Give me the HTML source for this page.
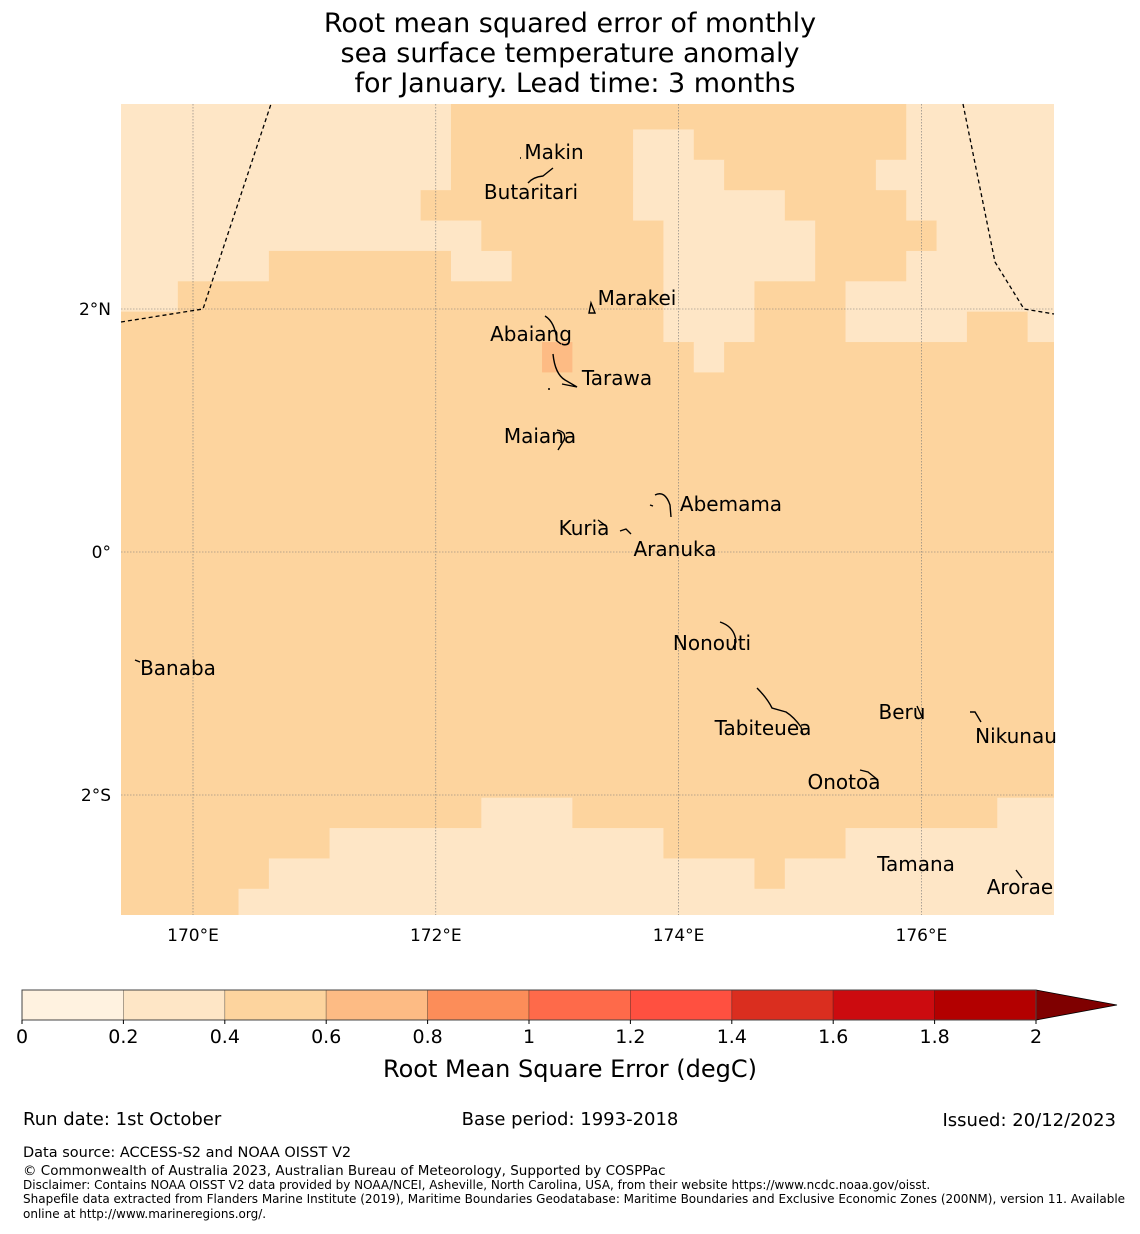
<!DOCTYPE html>
<html><head><meta charset="utf-8">
<style>
body{margin:0;background:#fff;width:1140px;height:1230px;overflow:hidden;font-family:"DejaVu Sans","Liberation Sans",sans-serif;}
svg text{font-family:"DejaVu Sans","Liberation Sans",sans-serif;}
</style></head><body>
<svg id="s" width="1140" height="1230" xmlns="http://www.w3.org/2000/svg">
<text x="570" y="32" font-size="27" text-anchor="middle">Root mean squared error of monthly</text>
<text x="570" y="62" font-size="27" text-anchor="middle">sea surface temperature anomaly</text>
<text x="575" y="92" font-size="27" text-anchor="middle">for January. Lead time: 3 months</text>
<defs><clipPath id="mc"><rect x="121" y="104" width="933" height="811"/></clipPath></defs>
<g id="map" clip-path="url(#mc)"></g>
<g id="ov"></g>
<g id="cb"></g>
<text x="570" y="1077" font-size="24" text-anchor="middle">Root Mean Square Error (degC)</text>
<text x="23" y="1125" font-size="18">Run date: 1st October</text>
<text x="570" y="1125" font-size="18" text-anchor="middle">Base period: 1993-2018</text>
<text x="1116" y="1126" font-size="18" text-anchor="end">Issued: 20/12/2023</text>
<text x="23" y="1157" font-size="14.5">Data source: ACCESS-S2 and NOAA OISST V2</text>
<text x="23" y="1175" font-size="13.5">© Commonwealth of Australia 2023, Australian Bureau of Meteorology, Supported by COSPPac</text>
<text x="23" y="1189" font-size="12">Disclaimer: Contains NOAA OISST V2 data provided by NOAA/NCEI, Asheville, North Carolina, USA, from their website https://www.ncdc.noaa.gov/oisst.</text>
<text x="23" y="1203" font-size="12">Shapefile data extracted from Flanders Marine Institute (2019), Maritime Boundaries Geodatabase: Maritime Boundaries and Exclusive Economic Zones (200NM), version 11. Available</text>
<text x="23" y="1218" font-size="12">online at http://www.marineregions.org/.</text>
</svg>
<script>
const levels=[0,0.2,0.4,0.6,0.8,1,1.2,1.4,1.6,1.8,2];
const colors=["#fff2e0","#fee6c6","#fdd49e","#fdbb84","#fc8d59","#fe6a4a","#ff5040","#da2e1f","#cc0b0f","#b30000"];
const extendColor="#7f0000";
const lonTicks=[170,172,174,176];
const latTicks=[2,0,-2];
const latLabels=["2°N","0°","2°S"];
// grid rows (0.25° cells), value class: 1=0.2-0.4, 2=0.4-0.6, 3=0.6-0.8
const gridRows=[
"1111111111122222222222222211111",
"1111111111122222211222222211111",
"1111111111122222211122222111111",
"1111111111222222211111222211111",
"1111111111112222221111122221111",
"1111122222211222221111122211111",
"1122222222222222221112221111111",
"2222222222222222221112221111221",
"2222222222222232222122222222222",
"2222222222222222222222222222222","2222222222222222222222222222222","2222222222222222222222222222222",
"2222222222222222222222222222222","2222222222222222222222222222222","2222222222222222222222222222222",
"2222222222222222222222222222222","2222222222222222222222222222222","2222222222222222222222222222222",
"2222222222222222222222222222222","2222222222222222222222222222222","2222222222222222222222222222222",
"2222222222222222222222222222222","2222222222222222222222222222222",
"2222222222221112222222222222211",
"2222222111111111112222221111111",
"2222211111111111111112111111111",
"2222111111111111111111111111111"];
const islands=[["Makin",554,152],["Butaritari",531,192],["Marakei",637,298],["Abaiang",531,334],["Tarawa",617,378],["Maiana",540,436],["Abemama",731,504],["Kuria",584,528],["Aranuka",675,549],["Nonouti",712,643],["Banaba",178,668],["Tabiteuea",763,728],["Beru",902,712],["Nikunau",1016,736],["Onotoa",844,782],["Tamana",916,864],["Arorae",1020,887]];
const NS="http://www.w3.org/2000/svg";
const x=lon=>193+(lon-170)*121.4;
const y=lat=>552-lat*121.5;
function mk(t,a,p){const e=document.createElementNS(NS,t);for(const k in a)e.setAttribute(k,a[k]);p.appendChild(e);return e;}
const map=document.getElementById('map'),ov=document.getElementById('ov'),cb=document.getElementById('cb');
gridRows.forEach((row,j)=>{[...row].forEach((c,i)=>{
 const lonA=169.375+i*0.25, latA=3.728-j*0.25;
 const r=mk('rect',{x:x(lonA),y:y(latA),width:31,height:31,fill:colors[+c]},map);
 
 
});});
lonTicks.forEach(l=>{const g=mk('line',{x1:x(l),x2:x(l),y1:104,y2:915,stroke:'#777','stroke-width':0.6,'stroke-dasharray':'1.5,1.5'},ov);
 
 const t=mk('text',{x:x(l),y:941,'font-size':17,'text-anchor':'middle'},ov);t.textContent=l+'°E';
 });
latTicks.forEach((l,k)=>{const g=mk('line',{x1:121,x2:1054,y1:y(l),y2:y(l),stroke:'#777','stroke-width':0.6,'stroke-dasharray':'1.5,1.5'},ov);
 
 const t=mk('text',{x:111,y:y(l)+6,'font-size':17,'text-anchor':'end'},ov);t.textContent=latLabels[k];
 });
[["M121,322 L203,309 L271,104"],["M963,104 L995,262 L1024,309 L1054,314"]].forEach(d=>{const p=mk('path',{d:d[0],fill:'none',stroke:'#000','stroke-width':1.3,'stroke-dasharray':'4,3'},ov);
 });
const shapes=["M520,158 l1,0 M528,183 q5,-6 15,-7 l10,-8","M589,313 l2,-10 l4,10 z","M545,316 q10,6 12,25 l4,3","M553,354 q2,20 12,26 l12,7 l-15,-3 M548,389 l2,0","M557,430 q10,2 7,10 l-6,10","M655,495 q10,-5 15,10 l1,12 M650,505 l3,1","M598,520 l8,6 M620,531 l6,-2 l5,5","M720,622 q15,5 16,20 l-3,6","M135,660 l5,2","M757,688 q10,10 15,20 l14,4 q8,5 15,15 l2,8","M917,706 l6,13","M970,712 l5,0 l6,10","M860,770 l8,2 l10,8","M1016,870 l6,8"];
shapes.forEach(d=>{const p=mk('path',{d:d,fill:'none',stroke:'#000','stroke-width':1.4},ov);
 });
islands.forEach(s=>{const t=mk('text',{x:s[1],y:s[2]+7,'font-size':20,'text-anchor':'middle'},ov);t.textContent=s[0];
 });
// colorbar
const cx=v=>22+v*507;
colors.forEach((c,i)=>{const r=mk('rect',{x:cx(levels[i]),y:990,width:cx(levels[i+1])-cx(levels[i]),height:30,fill:c,stroke:'rgba(0,0,0,0.3)','stroke-width':0.8},cb);
 });
const ar=mk('polygon',{points:`${cx(2)},990 1117,1005 ${cx(2)},1020`,fill:extendColor,stroke:'#000','stroke-width':0.8},cb);

const ob=mk('rect',{x:22,y:990,width:cx(2)-22,height:30,fill:'none',stroke:'#444','stroke-width':1},cb);

levels.forEach(v=>{mk('line',{x1:cx(v),x2:cx(v),y1:1020,y2:1024,stroke:'#000'},cb);
 const t=mk('text',{x:cx(v),y:1043,'font-size':19,'text-anchor':'middle'},cb);t.textContent=String(v);
 });
</script>
</body></html>
